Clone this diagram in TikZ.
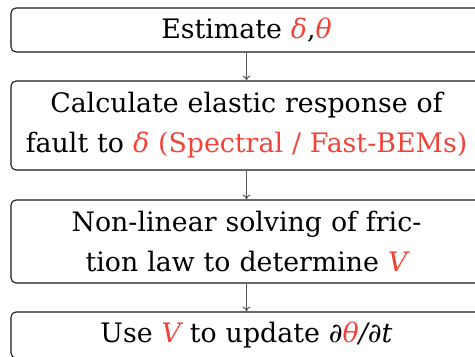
\documentclass[tikz,border=0pt]{standalone}
\usepackage{fontspec}
\setmainfont{DejaVu Serif}
\usetikzlibrary{arrows.meta}
\definecolor{fred}{RGB}{240,68,58}
\newcommand{\rv}[1]{\textcolor{fred}{\itshape #1}}
\begin{document}
\begin{tikzpicture}[x=0.5pt,y=-0.5pt,
  stepbox/.style={draw=black!90, line width=0.55pt, rounded corners=2.5pt,
    minimum width=235.5pt, text width=234pt, align=center, inner sep=0pt,
    font=\fontsize{13.4}{20}\selectfont},
  flow/.style={draw=black!65, line width=0.5pt, -{To[length=2.5pt,width=4pt]}}]
\useasboundingbox (0,0) rectangle (475,357);
\clip (0,0) rectangle (475,357);
\node[stepbox, minimum height=22pt] (a) at (246.5,30) {Estimate \rv{δ},\rv{θ}};
\node[stepbox, minimum height=44.5pt] (b) at (246.5,125.5) {Calculate elastic response of\\fault to \rv{δ} \textcolor{fred}{(Spectral / Fast-BEMs)}};
\node[stepbox, minimum height=41.5pt] (c) at (246.5,241.5) {Non-linear solving of fric-\\tion law to determine \rv{V}};
\node[stepbox, minimum height=23pt] (d) at (246.5,335) {Use \rv{V} to update {\itshape ∂\rv{θ}/∂t}};
\draw[flow] (a) -- (b);
\draw[flow] (b) -- (c);
\draw[flow] (c) -- (d);
\end{tikzpicture}
\end{document}
